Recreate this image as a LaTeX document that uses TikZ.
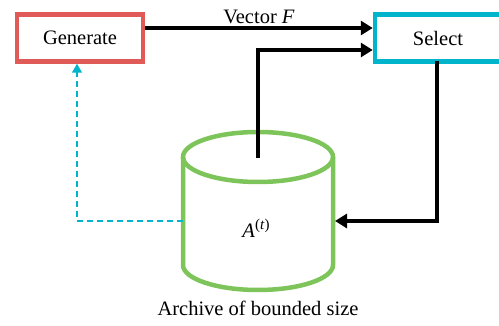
\documentclass[tikz,border=0pt]{standalone}
\usepackage{fontspec}
\setmainfont{Liberation Serif}
\usetikzlibrary{arrows.meta}
\definecolor{boxred}{HTML}{E05A57}
\definecolor{boxcyan}{HTML}{00B4CC}
\definecolor{cylgreen}{HTML}{7DC55A}
\begin{document}
\begin{tikzpicture}[x=1pt,y=-1pt,
  every node/.style={font=\fontsize{20.5}{23}\selectfont},
  procbox/.style={draw,line width=4.5pt,fill=white,minimum width=126pt,minimum height=47pt,inner sep=0pt},
  flow/.style={line width=4.5pt,-{Triangle[length=12pt,width=14pt]}},
  back/.style={line width=1.6pt,boxcyan,dash pattern=on 6pt off 4pt,-{Triangle[length=9pt,width=10pt]}},
  cyl/.style={line width=4.5pt,cylgreen}]
\useasboundingbox (0,0) rectangle (499,326);
\node[procbox,draw=boxred] (gen) at (80,38) {Generate};
\node[procbox,draw=boxcyan] (sel) at (438,38) {Select};
% cylinder
\draw[cyl,fill=white] (183,157) -- (183,265) arc[start angle=180,end angle=0,x radius=75,y radius=25] -- (333,157);
\draw[cyl] (258,157) ellipse [x radius=75,y radius=25];
\coordinate (ctop) at (258,158);
\coordinate (cright) at (335,221);
\coordinate (cleft) at (183,221);
\node (arch) at (256,228) {\textit{A}\raisebox{8pt}{\fontsize{15}{15}\selectfont(\textit{t})}};
\node (lbl) at (258,308) {Archive of bounded size};
% connectors
\draw[flow] (gen.east |- 0,28) -- node[above=-1pt] (vf) {Vector \textit{F}} (sel.west |- 0,28);
\draw[flow] (ctop) -- (ctop |- 0,50) -- (sel.west |- 0,50);
\draw[flow] (437,61) -- (437,221) -- (cright);
\draw[back] (cleft) -- (77,221) -- (gen.south -| 77,0);
\end{tikzpicture}
\end{document}
